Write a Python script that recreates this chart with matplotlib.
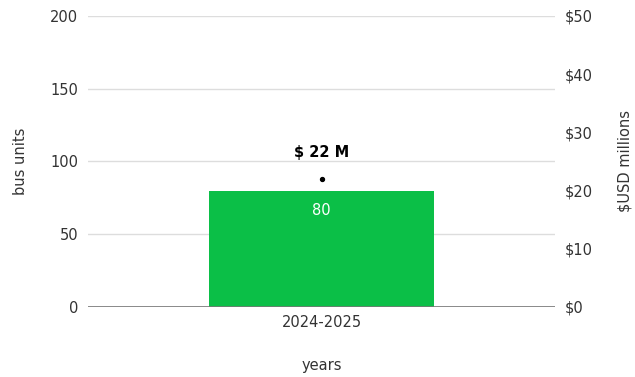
import matplotlib
matplotlib.use("Agg")
import matplotlib.pyplot as plt

plt.rcParams['font.family'] = ['DejaVu Sans']

years = ["2024-2025"]
bus_units = [80]
cost_musd = [22]
bus_ticks = [0, 50, 100, 150, 200]
usd_ticks = [0, 10, 20, 30, 40, 50]

text_color = "#333333"
bar_color = "#0bbf47"
fs = 10.5

fig = plt.figure(figsize=(6.35, 3.77), dpi=100)
ax = fig.add_axes([0.1386, 0.1857, 0.7354, 0.7719])
ax.set_xlim(-0.5, 0.5)
ax.set_ylim(0, 200)
ax.set_yticks(bus_ticks)
ax.tick_params(axis='y', length=0, pad=7, labelsize=fs, labelcolor=text_color)
ax.tick_params(axis='x', length=0, pad=6, labelsize=fs, labelcolor=text_color)
for s in ax.spines.values():
    s.set_visible(False)
ax.grid(axis='y', color="#dddddd", linewidth=1)
ax.set_axisbelow(True)
ax.axhline(0, color="#777777", linewidth=1.2, zorder=3)

bars = ax.bar(range(len(years)), bus_units, width=0.48, color=bar_color, zorder=2)
ax.set_xticks(range(len(years)))
ax.set_xticklabels(years)
for b, v in zip(bars, bus_units):
    ax.annotate(str(v), (b.get_x() + b.get_width() / 2, v), xytext=(0, -14),
                textcoords="offset points", ha="center", va="center",
                color="white", fontsize=fs, zorder=4)

ax.set_ylabel("bus units", fontsize=fs, color=text_color, labelpad=16)
ax.set_xlabel("years", fontsize=fs, color=text_color, labelpad=20)

ax2 = ax.twinx()
ax2.set_ylim(0, 50)
ax2.set_yticks(usd_ticks)
ax2.set_yticklabels([f"${t}" for t in usd_ticks])
ax2.tick_params(axis='y', length=0, pad=7, labelsize=fs, labelcolor=text_color)
for s in ax2.spines.values():
    s.set_visible(False)
ax2.scatter(range(len(years)), cost_musd, s=8, color="black", zorder=5)
for i, c in enumerate(cost_musd):
    ax2.annotate(f"$ {c} M", (i, c), xytext=(0, 19), textcoords="offset points",
                 ha="center", va="center", fontsize=fs, fontweight="bold",
                 color="black")
ax2.set_ylabel("$USD millions", fontsize=fs, color=text_color, labelpad=18)

fig.savefig("out.png", dpi=100)
